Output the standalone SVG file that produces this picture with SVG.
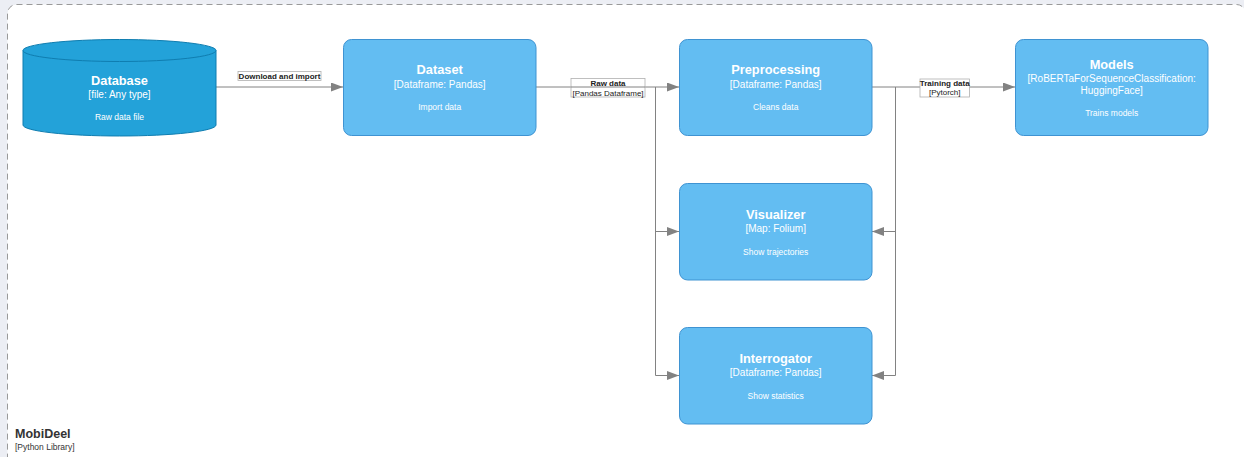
<svg xmlns="http://www.w3.org/2000/svg" width="1244" height="457" viewBox="0 0 1244 457">
<style>
.node{fill:#63bdf2;stroke:#3f93d2;stroke-width:1}
.t{font-family:"Liberation Sans",Arial,sans-serif;fill:#ffffff;text-anchor:middle}
.ti{font-size:12.8px;font-weight:bold}
.sub{font-size:10px}
.desc{font-size:8.5px}
.edge{fill:none;stroke:#828282;stroke-width:1}
.lbl{font-family:"Liberation Sans",Arial,sans-serif;fill:#222;text-anchor:middle;font-size:8px}
.lbox{fill:#ffffff;stroke:#b0b0b0;stroke-width:0.8}
</style>
<defs>
<marker id="arr" markerUnits="userSpaceOnUse" markerWidth="13" markerHeight="9" refX="12" refY="4.5" orient="auto">
<path d="M0,0 L12,4.5 L0,9 Z" fill="#828282"/>
</marker>
</defs>
<rect x="0" y="0" width="1244" height="457" fill="#eceef4"/>
<g id="boundary">
<rect x="7.5" y="4.5" width="1238" height="470" rx="9" fill="#ffffff" stroke="#9a9a9a" stroke-width="1" stroke-dasharray="6,4"/>
<text x="15" y="438" font-family="'Liberation Sans',Arial,sans-serif" font-size="12.5" font-weight="bold" fill="#333">MobiDeel</text>
<text x="15" y="450" font-family="'Liberation Sans',Arial,sans-serif" font-size="8.5" fill="#333">[Python Library]</text>
</g>
<g id="connectors">
<path class="edge" d="M216,87 H343" marker-end="url(#arr)"/>
<path class="edge" d="M536,87 H679" marker-end="url(#arr)"/>
<path class="edge" d="M655.5,87 V231.5 H679" marker-end="url(#arr)"/>
<path class="edge" d="M655.5,231 V375.5 H679" marker-end="url(#arr)"/>
<path class="edge" d="M872,87 H1015" marker-end="url(#arr)"/>
<path class="edge" d="M895.5,87 V231.5 H872" marker-end="url(#arr)"/>
<path class="edge" d="M895.5,231 V375.5 H872" marker-end="url(#arr)"/>
<rect class="lbox" x="238" y="71.5" width="83" height="9"/>
<text class="lbl" x="279.5" y="79" font-weight="bold">Download and import</text>
<rect class="lbox" x="571" y="78.5" width="74" height="18.5"/>
<line x1="571" y1="87" x2="645" y2="87" stroke="#828282" stroke-width="1"/>
<text class="lbl" x="608" y="85.5" font-weight="bold">Raw data</text>
<text class="lbl" x="608" y="95.5">[Pandas Dataframe]</text>
<rect class="lbox" x="920" y="79" width="49.5" height="18"/>
<text class="lbl" x="944.7" y="86.3" font-weight="bold">Training data</text>
<text class="lbl" x="944.7" y="95.3">[Pytorch]</text>
</g>
<g id="database">
<path d="M23,50.5 A96.5,11 0 0 1 216,50.5 V125 A96.5,11 0 0 1 23,125 Z" fill="#23a2d9" stroke="#0f7db0" stroke-width="1"/>
<path d="M23,50.5 A96.5,11 0 0 0 216,50.5" fill="none" stroke="#0f7db0" stroke-width="1"/>
<text class="t ti" x="119.5" y="85.3">Database</text>
<text class="t sub" x="119.5" y="97.8">[file: Any type]</text>
<text class="t desc" x="119.5" y="120.3">Raw data file</text>
</g>
<g id="dataset">
<rect class="node" x="343.5" y="39.5" width="192.5" height="96" rx="8"/>
<text class="t ti" x="439.7" y="74">Dataset</text>
<text class="t sub" x="439.7" y="87.5">[Dataframe: Pandas]</text>
<text class="t desc" x="439.7" y="110">Import data</text>
</g>
<g id="preprocessing">
<rect class="node" x="679.5" y="39.5" width="192.5" height="96" rx="8"/>
<text class="t ti" x="775.7" y="74">Preprocessing</text>
<text class="t sub" x="775.7" y="87.5">[Dataframe: Pandas]</text>
<text class="t desc" x="775.7" y="110">Cleans data</text>
</g>
<g id="models">
<rect class="node" x="1015.5" y="39.5" width="192.5" height="96" rx="8"/>
<text class="t ti" x="1111.7" y="68.5">Models</text>
<text class="t sub" x="1111.7" y="81.8">[RoBERTaForSequenceClassification:</text>
<text class="t sub" x="1111.7" y="94.2">HuggingFace]</text>
<text class="t desc" x="1111.7" y="115.7">Trains models</text>
</g>
<g id="visualizer">
<rect class="node" x="679.5" y="183.5" width="192.5" height="96.5" rx="8"/>
<text class="t ti" x="775.7" y="218.6">Visualizer</text>
<text class="t sub" x="775.7" y="232">[Map: Folium]</text>
<text class="t desc" x="775.7" y="254.7">Show trajectories</text>
</g>
<g id="interrogator">
<rect class="node" x="679.5" y="327.5" width="192.5" height="96.5" rx="8"/>
<text class="t ti" x="775.7" y="362.8">Interrogator</text>
<text class="t sub" x="775.7" y="376">[Dataframe: Pandas]</text>
<text class="t desc" x="775.7" y="399">Show statistics</text>
</g>
</svg>
